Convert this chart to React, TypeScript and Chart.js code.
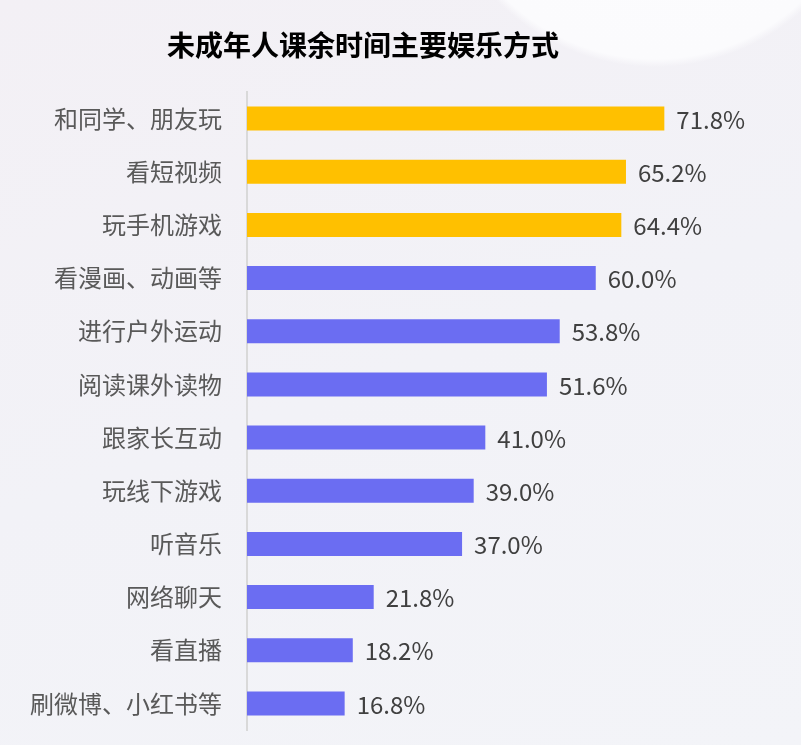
import React, { useEffect, useRef } from "react";
import { Chart, registerables } from "chart.js";

Chart.register(...registerables);

const TITLE = "未成年人课余时间主要娱乐方式";
const categories = [
  "和同学、朋友玩",
  "看短视频",
  "玩手机游戏",
  "看漫画、动画等",
  "进行户外运动",
  "阅读课外读物",
  "跟家长互动",
  "玩线下游戏",
  "听音乐",
  "网络聊天",
  "看直播",
  "刷微博、小红书等",
];
const values = [71.8, 65.2, 64.4, 60.0, 53.8, 51.6, 41.0, 39.0, 37.0, 21.8, 18.2, 16.8];
const highlightCount = 3;
const GOLD = "#FFC000";
const PURPLE = "#6B6DF2";
const FONT = "'Noto Sans CJK SC', 'Noto Sans', sans-serif";

export default function App() {
  const ref = useRef<HTMLCanvasElement | null>(null);

  useEffect(() => {
    if (!ref.current) return;
    const valueLabels = {
      id: "valueLabels",
      afterDatasetsDraw(chart: any) {
        const ctx = chart.ctx;
        const meta = chart.getDatasetMeta(0);
        ctx.save();
        ctx.font = `24px ${FONT}`;
        ctx.fillStyle = "#404040";
        ctx.textAlign = "left";
        ctx.textBaseline = "middle";
        meta.data.forEach((bar: any, i: number) => {
          ctx.fillText(values[i].toFixed(1) + "%", bar.x + 12, bar.y + 1);
        });
        ctx.restore();
      },
    };
    const titlePlugin = {
      id: "customTitle",
      afterDraw(chart: any) {
        const ctx = chart.ctx;
        ctx.save();
        ctx.font = `bold 28px ${FONT}`;
        ctx.fillStyle = "#000000";
        ctx.textAlign = "center";
        ctx.textBaseline = "middle";
        ctx.fillText(TITLE, 363, 45);
        ctx.restore();
      },
    };
    const chart = new Chart(ref.current, {
      type: "bar",
      data: {
        labels: categories,
        datasets: [
          {
            data: values,
            backgroundColor: values.map((_, i) => (i < highlightCount ? GOLD : PURPLE)),
            categoryPercentage: 1,
            barPercentage: 0.45,
          },
        ],
      },
      options: {
        indexAxis: "y",
        animation: false,
        responsive: false,
        maintainAspectRatio: false,
        layout: { padding: { top: 92, bottom: 15, right: 89, left: 0 } },
        plugins: {
          legend: { display: false },
          title: { display: false },
          tooltip: { enabled: false },
        },
        scales: {
          x: { display: false, min: 0, max: 80 },
          y: {
            afterFit(scale: any) {
              scale.width = 247;
              scale.paddingTop = 0;
              scale.paddingBottom = 0;
            },
            grid: { display: false, drawTicks: false },
            border: { display: true, color: "#d9d9d9", width: 2 },
            ticks: {
              padding: 25,
              color: "#595959",
              font: { size: 24, family: FONT },
            },
          },
        },
      },
      plugins: [valueLabels, titlePlugin],
    });
    return () => chart.destroy();
  }, []);

  return (
    <div
      style={{
        position: "fixed",
        left: 0,
        top: 0,
        width: 801,
        height: 745,
        overflow: "hidden",
        background:
          "radial-gradient(circle at 655px -155px, #fcfcfe 0px, #fbfbfd 214px, rgba(251,251,253,0) 222px), linear-gradient(160deg, #f3f0f5 0%, #f2f2f7 50%, #f3f4f8 100%)",
      }}
    >
      <canvas ref={ref} width={801} height={745} style={{ display: "block" }} />
    </div>
  );
}
